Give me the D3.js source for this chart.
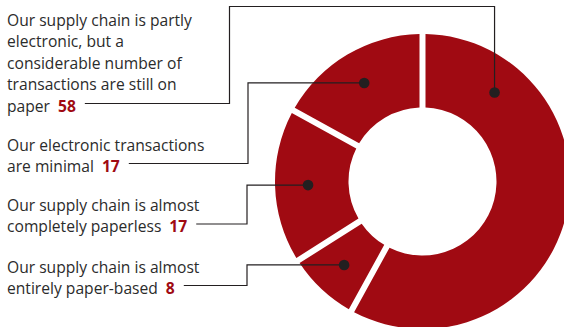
<!DOCTYPE html>
<html>
<head>
<meta charset="utf-8">
<script src="https://cdn.jsdelivr.net/npm/d3@7"></script>
<style>
  html, body { margin: 0; padding: 0; background: #fff; }
  svg { display: block; }
  text { font-family: "Open Sans", "Noto Sans", sans-serif; font-size: 16.5px; fill: #2b2b2b; }
  .num { font-weight: bold; fill: #a00a12; }
</style>
</head>
<body>
<svg id="chart" width="564" height="327"></svg>
<script>
// Share of respondents, slices in clockwise order from 12 o'clock
const categories = [
  "Our supply chain is partly electronic, but a considerable number of transactions are still on paper",
  "Our supply chain is almost entirely paper-based",
  "Our supply chain is almost completely paperless",
  "Our electronic transactions are minimal"
];
const values = [58, 8, 17, 17];

// Label text broken into lines (same order as categories)
const labelLines = [
  ["Our supply chain is partly", "electronic, but a", "considerable number of", "transactions are still on", "paper"],
  ["Our supply chain is almost", "entirely paper-based"],
  ["Our supply chain is almost", "completely paperless"],
  ["Our electronic transactions", "are minimal"]
];

const W = 564, H = 327;
const cx = 422.5, cy = 181.5;
const rOuter = 147.5, rInner = 74;
const dotRadius = 114.5;
const red = "#a00a12";
const ink = "#231f20";

// Label layout: baseline of first line, elbow x of leader, optional dot angle override (deg)
const layout = [
  { y0: 26,    elbowX: 229.5, topY: 6.5, dotAngle: 39 },
  { y0: 272.5, elbowX: 247 },
  { y0: 211,   elbowX: 247 },
  { y0: 150.5, elbowX: 248 }
];
const lineH = 21.5;
const textX = 7;

const svg = d3.select("#chart");

const pie = d3.pie().value(d => d).sort(null);
const arcs = pie(values);

const arc = d3.arc()
  .innerRadius(rInner)
  .outerRadius(rOuter)
  .padAngle(0.06)
  .padRadius(100);

const g = svg.append("g").attr("transform", `translate(${cx},${cy})`);
g.selectAll("path.slice")
  .data(arcs)
  .join("path")
  .attr("class", "slice")
  .attr("d", arc)
  .attr("fill", red);

// Horizontal condensing factor so the labels keep the narrow look of the typeface
const probe = svg.append("text").text(labelLines[0][0]);
const probeW = probe.node().getComputedTextLength();
probe.remove();
const kx = 185 / probeW;

const leaders = svg.append("g");
const labels = svg.append("g");

arcs.forEach((a, i) => {
  const L = layout[i];
  const lines = labelLines[i];
  const ang = L.dotAngle != null ? L.dotAngle * Math.PI / 180 : (a.startAngle + a.endAngle) / 2;
  const dx = cx + dotRadius * Math.sin(ang);
  const dy = cy - dotRadius * Math.cos(ang);

  const lg = labels.append("g")
    .attr("transform", `translate(${textX},${L.y0}) scale(${kx},1)`);
  let last;
  lines.forEach((ln, j) => {
    const t = lg.append("text").attr("x", 0).attr("y", j * lineH).text(ln);
    if (j === lines.length - 1) last = t;
  });
  last.append("tspan").attr("class", "num").attr("dx", 8 / kx).text(values[i]);
  const endX = textX + last.node().getBBox().width * kx;
  const lineY = L.y0 + (lines.length - 1) * lineH - 8.5;
  const startX = endX + 9;

  let pts;
  if (L.topY != null) {
    pts = [[startX, lineY], [L.elbowX, lineY], [L.elbowX, L.topY], [dx, L.topY], [dx, dy]];
  } else {
    pts = [[startX, lineY], [L.elbowX, lineY], [L.elbowX, dy], [dx, dy]];
  }
  leaders.append("path")
    .attr("d", d3.line()(pts))
    .attr("fill", "none")
    .attr("stroke", ink)
    .attr("stroke-width", 1.2);
  leaders.append("circle")
    .attr("cx", dx).attr("cy", dy).attr("r", 5.3)
    .attr("fill", ink);
});
</script>
</body>
</html>
